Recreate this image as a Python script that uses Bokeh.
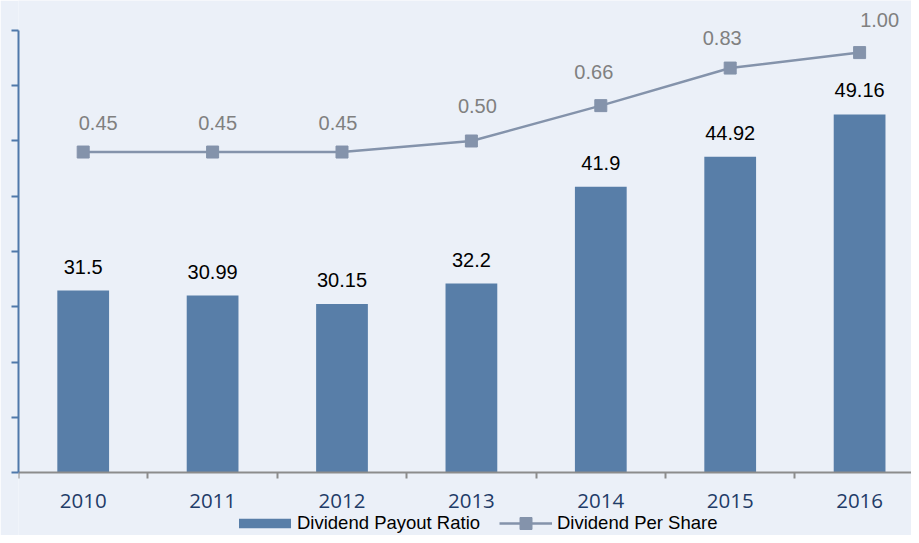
from bokeh.plotting import figure
from bokeh.models import (Range1d, LinearAxis, FixedTicker, Legend, LegendItem,
                          ColumnDataSource)
from bokeh.embed import file_html
from bokeh.resources import INLINE
from bokeh.core.properties import value

# ---- data ----
years = ["2010", "2011", "2012", "2013", "2014", "2015", "2016"]
payout_ratio = [31.5, 30.99, 30.15, 32.2, 41.9, 44.92, 49.16]
payout_labels = ["31.5", "30.99", "30.15", "32.2", "41.9", "44.92", "49.16"]
dividend_per_share = [0.45, 0.45, 0.45, 0.50, 0.66, 0.83, 0.90]
dps_labels = ["0.45", "0.45", "0.45", "0.50", "0.66", "0.83", "1.00"]
dps_ticks = [-1.0, -0.75, -0.5, -0.25, 0.0, 0.25, 0.5, 0.75, 1.0]

# ---- scale settings ----
BAR_BASE = 13.25          # payout-ratio value at the category axis line
BAR_RANGE = (6.93, 60.59)
DPS_RANGE = (-1.285, 1.1357)

# ---- label nudges (screen px) ----
dps_label_dx = [15, 5, -4, 6, -7, -8, 20]
dps_label_dy = [-29, -29, -29, -35, -34, -30, -33]

BG = "#ebf0f8"
BAR = "#587ea8"
LINE = "#8493ab"

xs = list(range(len(years)))
src = ColumnDataSource(dict(x=xs, payout=payout_ratio, plab=payout_labels,
                            dps=dividend_per_share, dlab=dps_labels,
                            dx=dps_label_dx, dy=dps_label_dy))

p = figure(width=911, height=535, output_backend="svg", toolbar_location=None,
           x_range=Range1d(-0.5, -0.5 + 893 / 129.4),
           y_range=Range1d(*BAR_RANGE),
           y_axis_location=None,
           background_fill_color=BG, border_fill_color=BG,
           min_border_left=18, min_border_right=0, min_border_top=0,
           min_border_bottom=0)
p.outline_line_color = None
p.grid.grid_line_color = None
p.extra_y_ranges = {"dps": Range1d(*DPS_RANGE)}

# left axis (dividend per share scale, no labels)
ax = LinearAxis(y_range_name="dps", ticker=FixedTicker(ticks=dps_ticks),
                bounds=(-1.0, 1.0))
ax.axis_line_color = "#4f78aa"
ax.axis_line_width = 2
ax.major_tick_line_color = "#4f78aa"
ax.major_tick_line_width = 2
ax.major_tick_out = 7
ax.major_tick_in = 0
ax.minor_tick_line_color = None
ax.major_label_overrides = {t: "" for t in dps_ticks}
ax.major_label_standoff = 0
p.add_layout(ax, "left")

# bottom (category) axis, drawn at the bar baseline
xa = p.xaxis[0]
xa.fixed_location = BAR_BASE
xa.ticker = FixedTicker(ticks=xs, minor_ticks=[i - 0.5 for i in range(len(years) + 1)])
xa.major_label_overrides = {i: y for i, y in enumerate(years)}
xa.major_tick_line_color = None
xa.major_tick_out = 0
xa.major_tick_in = 0
xa.minor_tick_line_color = "#8c8c8c"
xa.minor_tick_line_width = 2
xa.minor_tick_out = 6
xa.minor_tick_in = 0
xa.axis_line_color = "#8c8c8c"
xa.axis_line_width = 2
xa.major_label_text_font = "Open Sans"
xa.major_label_text_font_size = "20.5px"
xa.major_label_text_color = "#1f3c68"
xa.major_label_standoff = 16

# bars
bars = p.vbar(x="x", top="payout", width=0.4, bottom=BAR_BASE, source=src,
              fill_color=BAR, line_color=None)
p.text(x="x", y="payout", text="plab", source=src, text_align="center",
       text_baseline="alphabetic", y_offset=-24,
       text_font=value("Liberation Sans"), text_font_size="20px",
       text_color="#000000")

# line
ln = p.line(x="x", y="dps", source=src, y_range_name="dps",
            line_color=LINE, line_width=2.5)
mk = p.scatter(x="x", y="dps", source=src, y_range_name="dps", marker="square",
               size=12, fill_color=LINE, line_color=LINE)
p.text(x="x", y="dps", text="dlab", source=src, y_range_name="dps",
       text_align="center", text_baseline="alphabetic",
       x_offset="dx", y_offset="dy",
       text_font=value("Liberation Sans"), text_font_size="20px",
       text_color="#808080")

# legends
leg1 = Legend(items=[LegendItem(label="Dividend Payout Ratio", renderers=[bars])],
              location=(214, 1), glyph_width=65, glyph_height=12,
              label_standoff=0, padding=0, margin=0, border_line_color=None,
              background_fill_alpha=0, label_text_font="Liberation Sans",
              label_text_font_size="18.5px", label_text_color="#000000")
leg2 = Legend(items=[LegendItem(label="Dividend Per Share", renderers=[ln, mk])],
              location=(481, -3), glyph_width=53, glyph_height=30,
              label_standoff=5, padding=0, margin=0, border_line_color=None,
              background_fill_alpha=0, label_text_font="Liberation Sans",
              label_text_font_size="18.5px", label_text_color="#000000")
p.add_layout(leg1, "center")
p.add_layout(leg2, "center")

open("out.html", "w").write(file_html(p, INLINE))
